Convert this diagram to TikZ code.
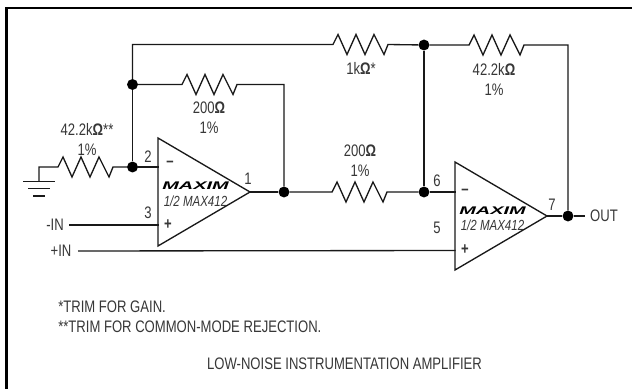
\documentclass[tikz,border=0pt]{standalone}
\usepackage{fontspec}
\setmainfont[FakeStretch=0.785]{Liberation Sans}
\newfontfamily\logofont[FakeStretch=1.8]{Liberation Sans}
\usetikzlibrary{shapes.geometric}
\definecolor{wireColor}{RGB}{25,25,25}
\definecolor{textColor}{RGB}{55,55,55}
\tikzset{
  wire/.style={draw=wireColor,line width=1pt},
  dot/.style={circle,fill=black,inner sep=0pt,minimum size=8.2pt},
  lbl/.style={text=textColor,inner sep=0pt,font=\fontsize{12.5}{15}\selectfont,align=center},
  logo/.style={inner sep=0pt,font=\fontsize{8.3}{9}\logofont\bfseries\itshape},
  part/.style={lbl,font=\fontsize{11}{12}\selectfont\itshape},
  opamp/.style={draw=wireColor,line width=1pt,fill=white,isosceles triangle,isosceles triangle apex angle=60.8,
    isosceles triangle stretches,minimum width=81pt,minimum height=69pt,inner sep=0pt,outer sep=0pt,anchor=apex},
}
\begin{document}
\begin{tikzpicture}[x=0.75pt,y=-0.75pt]
\newcommand\Zigzag{-- ++(5,-10) -- ++(9,20) -- ++(9,-20) -- ++(9,20) -- ++(9,-20) -- ++(10,20) -- ++(4,-10)}
\useasboundingbox (0,0) rectangle (632,389);
\fill [white] (0,0) rectangle (632,389);
\draw [black, line width=1.6pt] (6.5,389) -- (6.5,8) -- (632,8);

% op amps
\node [opamp] (ampa) at (250,192) {};
\node [opamp] (ampb) at (547,216) {};
\coordinate (ampaminus) at (158.5,167);
\coordinate (ampaplus) at (158.5,225);
\coordinate (ampbminus) at (455.5,192);
\coordinate (ampbplus) at (455.5,250.5);

% junctions
\node [dot] (ja) at (132.5,84.5) {};
\node [dot] (jb) at (132.5,167) {};
\node [dot] (jc) at (284,192) {};
\node [dot] (jd) at (424,45) {};
\node [dot] (je) at (424,192) {};
\node [dot] (jf) at (568,216) {};

% corners
\coordinate (cfa) at (132.5,44.5);
\coordinate (cfb) at (284,84.5);
\coordinate (cfc) at (568,45);
\coordinate (gndtop) at (39,167);
\coordinate (gnd) at (39,181.5);

% wires
\draw [wire] (ja) -- (cfa) -- (333,44.5) \Zigzag -- (jd);
\draw [wire] (jd) -- (469,45) \Zigzag -- (cfc) -- (jf);
\draw [wire] (ja) -- (jb);
\draw [wire] (ja) -- (182,84.5) \Zigzag -- (cfb) -- (jc);
\draw [wire] (gnd) -- (gndtop) -- (58,167) \Zigzag -- (jb);
\draw [wire] (jb) -- (ampaminus);
\draw [wire] (ampa.apex) -- (jc);
\draw [wire] (jc) -- (332,192) \Zigzag -- (je);
\draw [wire] (jd) -- (je);
\draw [wire] (je) -- (ampbminus);
\draw [wire] (ampb.apex) -- (jf);

% ground
\draw [wire] (23,181.5) -- (55,181.5);
\draw [wire] (28,188.5) -- (50,188.5);
\draw [wire] (33,196) -- (45,196);

% inputs and output
\node [lbl] (inm) at (55,225) {-IN};
\node [lbl] (inp) at (61,251) {+IN};
\node [lbl] (out) at (604,216) {OUT};
\draw [wire,shorten <=3pt] (inm) ++(10,0) -- (ampaplus);
\draw [wire,shorten <=3pt] (inp) ++(13,0) -- (ampbplus);
\draw [wire,shorten >=3.5pt] (jf) -- (out);

% minus and plus
\node [lbl] (signa) at (170,164) {\textbf{--}};
\node [lbl] (signb) at (168,225) {\textbf{+}};
\node [lbl] (signc) at (465,192) {\textbf{--}};
\node [lbl] (signd) at (465,250) {\textbf{+}};

% logos
\node [logo] (logoa) at (195.5,186) {MAXIM};
\node [logo] (logob) at (492.5,211) {MAXIM};
\node [part] (parta) at (195.5,201) {1/2 MAX412};
\node [part] (partb) at (492.5,225) {1/2 MAX412};

% pins
\node [lbl] (pina) at (148,157) {2};
\node [lbl] (pinb) at (148,213) {3};
\node [lbl] (pinc) at (248,179) {1};
\node [lbl] (pind) at (437,181) {6};
\node [lbl] (pine) at (437,228) {5};
\node [lbl] (pinf) at (552,205) {7};

% values
\node [lbl] (rvala) at (87,139.5) {42.2k\textbf{Ω}**\\1\%};
\node [lbl] (rvalb) at (209,118) {200\textbf{Ω}\\1\%};
\node [lbl] (rvalc) at (360,160.5) {200\textbf{Ω}\\1\%};
\node [lbl] (rvald) at (361,68) {1k\textbf{Ω}*};
\node [lbl] (rvale) at (494,80) {42.2k\textbf{Ω}\\1\%};

% notes
\node [lbl,align=left,anchor=west] (notes) at (58,317) {*TRIM FOR GAIN.\\**TRIM FOR COMMON-MODE REJECTION.};
\node [lbl] (title) at (344.5,364) {LOW-NOISE INSTRUMENTATION AMPLIFIER};
\end{tikzpicture}
\end{document}
